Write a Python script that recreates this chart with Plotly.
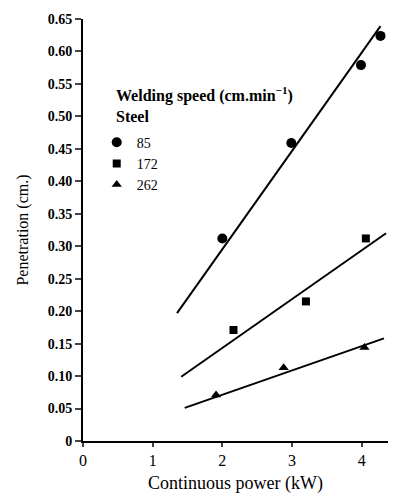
import plotly.graph_objects as go

# Measured points (continuous power kW, penetration cm)
power_85 = [2.0, 2.99, 3.99, 4.27]
pen_85 = [0.312, 0.459, 0.579, 0.624]
power_172 = [2.16, 3.2, 4.06]
pen_172 = [0.171, 0.215, 0.312]
power_262 = [1.91, 2.88, 4.04]
pen_262 = [0.071, 0.113, 0.144]

# Fitted straight lines (end points)
fit_x_85 = [1.35, 4.27]
fit_y_85 = [0.197, 0.639]
fit_x_172 = [1.41, 4.35]
fit_y_172 = [0.099, 0.32]
fit_x_262 = [1.46, 4.32]
fit_y_262 = [0.051, 0.158]

y_ticks = [0, 0.05, 0.10, 0.15, 0.20, 0.25, 0.30, 0.35, 0.40, 0.45, 0.50, 0.55, 0.60, 0.65]
y_labels = ["0", "0.05", "0.10", "0.15", "0.20", "0.25", "0.30", "0.35", "0.40",
            "0.45", "0.50", "0.55", "0.60", "0.65"]
x_ticks = [0, 1, 2, 3, 4]

serif = "Liberation Serif, Times New Roman, serif"

fig = go.Figure()

# fit lines first so the markers sit on top
for fx, fy in [(fit_x_85, fit_y_85), (fit_x_172, fit_y_172), (fit_x_262, fit_y_262)]:
    fig.add_trace(go.Scatter(x=fx, y=fy, mode="lines", line=dict(color="black", width=2),
                             showlegend=False, hoverinfo="skip"))

fig.add_trace(go.Scatter(x=power_85, y=pen_85, mode="markers", name="85",
                         marker=dict(symbol="circle", size=10, color="black")))
fig.add_trace(go.Scatter(x=power_172, y=pen_172, mode="markers", name="172",
                         marker=dict(symbol="square", size=8, color="black")))
fig.add_trace(go.Scatter(x=power_262, y=pen_262, mode="markers", name="262",
                         marker=dict(symbol="triangle-up", size=9, color="black")))

# legend heading as its own text so the entries can sit close under it
fig.add_annotation(text="<b>Welding speed (cm.min<sup>−1</sup>)<br>Steel</b>",
                   xref="paper", yref="paper", x=0.1, y=0.85, xanchor="left", yanchor="top",
                   align="left", showarrow=False, font=dict(family=serif, size=16))

fig.update_layout(
    width=400, height=497,
    margin=dict(l=83, r=12, t=19, b=56),
    paper_bgcolor="white", plot_bgcolor="white",
    font=dict(family=serif, size=14, color="black"),
    legend=dict(
        x=0.045, y=0.745, xanchor="left", yanchor="top",
        bgcolor="rgba(0,0,0,0)", itemwidth=30, tracegroupgap=0,
        font=dict(family=serif, size=14),
    ),
    xaxis=dict(
        range=[0, 4.378], tickvals=x_ticks, ticks="outside", ticklen=4, tickwidth=2,
        showline=True, linewidth=2, linecolor="black", showgrid=False, zeroline=False,
        automargin=False, tickfont=dict(family=serif, size=16),
        title=dict(text="Continuous power (kW)", font=dict(family=serif, size=18), standoff=8),
    ),
    yaxis=dict(
        range=[0, 0.65], tickvals=y_ticks, ticktext=y_labels, ticks="outside", ticklen=6,
        tickwidth=2, showline=True, linewidth=2, linecolor="black", showgrid=False,
        zeroline=False, automargin=False,
        tickfont=dict(family=serif, size=14, weight="bold"),
        title=dict(text="Penetration (cm.)", font=dict(family=serif, size=16), standoff=15),
    ),
)

# drop the browser's default body margin so the figure fills the window
fig.write_html("out.html", config={"displayModeBar": False},
               post_script="document.body.style.margin='0';")
